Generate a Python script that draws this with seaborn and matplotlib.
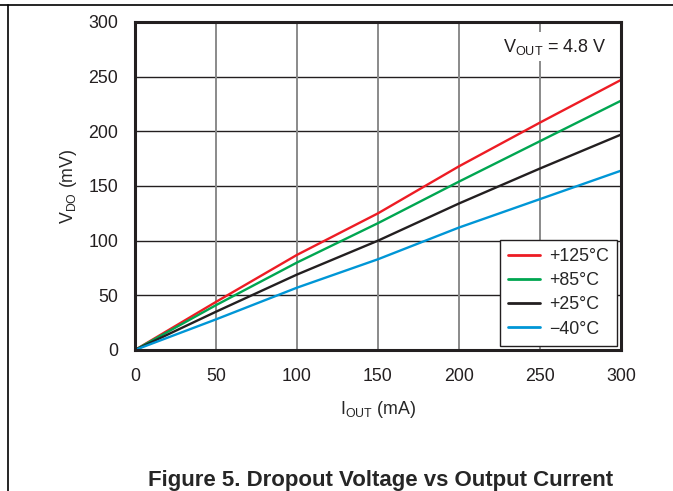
import numpy as np
import pandas as pd
import seaborn as sns
import matplotlib.pyplot as plt
from matplotlib.lines import Line2D

sns.set_theme(style="white")
plt.rcParams['font.family'] = ['Liberation Sans', 'DejaVu Sans']

# values
iout = [0, 50, 100, 150, 200, 250, 300]
vdo_125 = [0, 44, 87, 125, 168, 208, 247]
vdo_85 = [0, 41, 80, 116, 154, 191, 228]
vdo_25 = [0, 35, 69, 100, 134, 166, 197]
vdo_m40 = [0, 28, 57, 83, 112, 138, 164]
temps = ['+125°C', '+85°C', '+25°C', '\u221240°C']
colors = ['#ED1C24', '#00A651', '#231F20', '#0096D6']
x_ticks = [0, 50, 100, 150, 200, 250, 300]
y_ticks = [0, 50, 100, 150, 200, 250, 300]

df = pd.concat([
    pd.DataFrame({'iout': iout, 'vdo': v, 'temp': t})
    for v, t in zip([vdo_125, vdo_85, vdo_25, vdo_m40], temps)
])

fs = 12.8
fig = plt.figure(figsize=(6.73, 4.91), dpi=100)
ax = fig.add_axes([0.2006, 0.2872, 0.7221, 0.668])

sns.lineplot(data=df, x='iout', y='vdo', hue='temp', hue_order=temps,
             palette=colors, linewidth=1.7, ax=ax)

ax.set_xlim(0, 300)
ax.set_ylim(0, 300)
ax.set_xticks(x_ticks)
ax.set_yticks(y_ticks)
ax.tick_params(length=0, labelsize=fs, colors='#231F20')
ax.tick_params(axis='x', pad=13)
ax.tick_params(axis='y', pad=12)

ax.grid(False)
for yv in y_ticks[1:-1]:
    ax.axhline(yv, color='#231F20', linewidth=1.0, zorder=0)
for xv in x_ticks[1:-1]:
    ax.axvline(xv, color='#8a8a8a', linewidth=1.4, zorder=0)

for s in ax.spines.values():
    s.set_color('#231F20')
    s.set_linewidth(2.2)
    s.set_visible(True)

ax.set_xlabel(r'I$_{\mathregular{OUT}}$ (mA)', fontsize=fs, labelpad=10)
ax.set_ylabel(r'V$_{\mathregular{DO}}$ (mV)', fontsize=fs, labelpad=7)

ax.text(0.97, 0.925, r'V$_{\mathregular{OUT}}$ = 4.8 V', transform=ax.transAxes,
        ha='right', va='center', fontsize=13, color='#231F20', zorder=5,
        bbox=dict(facecolor='white', edgecolor='none', pad=3))

leg = ax.legend(loc='lower right', fontsize=fs, frameon=True, fancybox=False,
                handlelength=1.8, borderaxespad=0.25, labelspacing=0.4,
                handletextpad=0.5, borderpad=0.45)
leg.get_frame().set_edgecolor('#231F20')
leg.get_frame().set_linewidth(1.0)
leg.get_frame().set_alpha(1)
for line in leg.get_lines():
    line.set_linewidth(2.0)

fig.text(0.565, 1 - 486 / 491, 'Figure 5. Dropout Voltage vs Output Current',
         ha='center', va='baseline', fontsize=16, fontweight='bold')

# page frame lines
fig.add_artist(Line2D([0, 1], [1 - 5 / 491, 1 - 5 / 491], color='black', linewidth=1.2))
fig.add_artist(Line2D([8 / 673, 8 / 673], [0, 1 - 5 / 491], color='black', linewidth=1.2))

fig.savefig('out.png', dpi=100)
